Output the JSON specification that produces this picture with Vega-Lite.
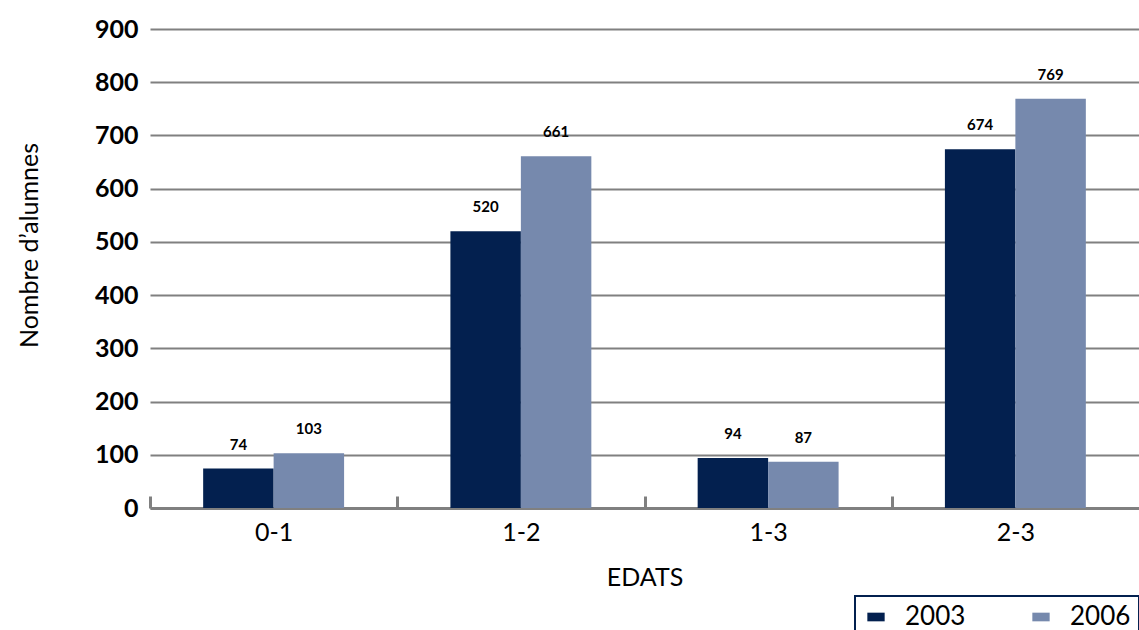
{
  "$schema": "https://vega.github.io/schema/vega-lite/v6.json",
  "autosize": {"type": "none"},
  "width": 989,
  "height": 479,
  "padding": {"left": 150, "top": 29, "right": 0, "bottom": 122},
  "background": "white",
  "config": {
    "view": {"stroke": null},
    "font": "Lato"
  },
  "data": {
    "values": [
      {"edat": "0-1", "year": "2003", "alumnes": 74},
      {"edat": "0-1", "year": "2006", "alumnes": 103},
      {"edat": "1-2", "year": "2003", "alumnes": 520},
      {"edat": "1-2", "year": "2006", "alumnes": 661},
      {"edat": "1-3", "year": "2003", "alumnes": 94},
      {"edat": "1-3", "year": "2006", "alumnes": 87},
      {"edat": "2-3", "year": "2003", "alumnes": 674},
      {"edat": "2-3", "year": "2006", "alumnes": 769}
    ]
  },
  "encoding": {
    "x": {
      "field": "edat",
      "type": "nominal",
      "scale": {"paddingInner": 0.43, "paddingOuter": 0.215},
      "axis": {
        "title": "EDATS",
        "titleFontSize": 25,
        "titleFontWeight": "normal",
        "titleColor": "#000000",
        "titlePadding": 20,
        "labelAngle": 0,
        "labelFontSize": 25,
        "labelColor": "#000000",
        "labelPadding": 24,
        "labelOffset": 123.6,
        "domainColor": "#808080",
        "domainWidth": 3,
        "tickColor": "#808080",
        "tickWidth": 3,
        "tickSize": -12,
        "tickOffset": -123.6,
        "grid": false
      }
    },
    "xOffset": {"field": "year", "type": "nominal"},
    "y": {
      "field": "alumnes",
      "type": "quantitative",
      "scale": {"domain": [0, 900], "nice": false},
      "axis": {
        "title": "Nombre d\u2019alumnes",
        "titleFontSize": 25,
        "titleFontWeight": "normal",
        "titleColor": "#000000",
        "titlePadding": 52,
        "titleY": 216,
        "values": [0, 100, 200, 300, 400, 500, 600, 700, 800, 900],
        "labelFontSize": 25,
        "labelFontWeight": "bold",
        "labelColor": "#000000",
        "labelPadding": 12,
        "domain": false,
        "ticks": false,
        "gridColor": "#808080",
        "gridWidth": 2
      }
    }
  },
  "layer": [
    {
      "mark": {"type": "bar"},
      "encoding": {
        "color": {
          "field": "year",
          "type": "nominal",
          "scale": {"domain": ["2003", "2006"], "range": ["#03204f", "#7689ad"]},
          "legend": {
            "title": null,
            "orient": "none",
            "legendX": 705,
            "legendY": 567,
            "direction": "horizontal",
            "columnPadding": 62,
            "padding": 8,
            "strokeColor": "#03204f",
            "symbolType": "M-1,-0.5H1V0.5H-1Z",
            "symbolSize": 300,
            "symbolStrokeWidth": 0,
            "symbolOpacity": 1,
            "labelFontSize": 26,
            "labelColor": "#000000",
            "labelOffset": 16,
            "encode": {"legend": {"update": {"strokeWidth": {"value": 2}}}}
          }
        }
      }
    },
    {
      "mark": {"type": "text", "dy": -24, "fontSize": 15, "fontWeight": "bold", "color": "#000000"},
      "encoding": {
        "text": {"field": "alumnes", "type": "quantitative"}
      }
    }
  ]
}
